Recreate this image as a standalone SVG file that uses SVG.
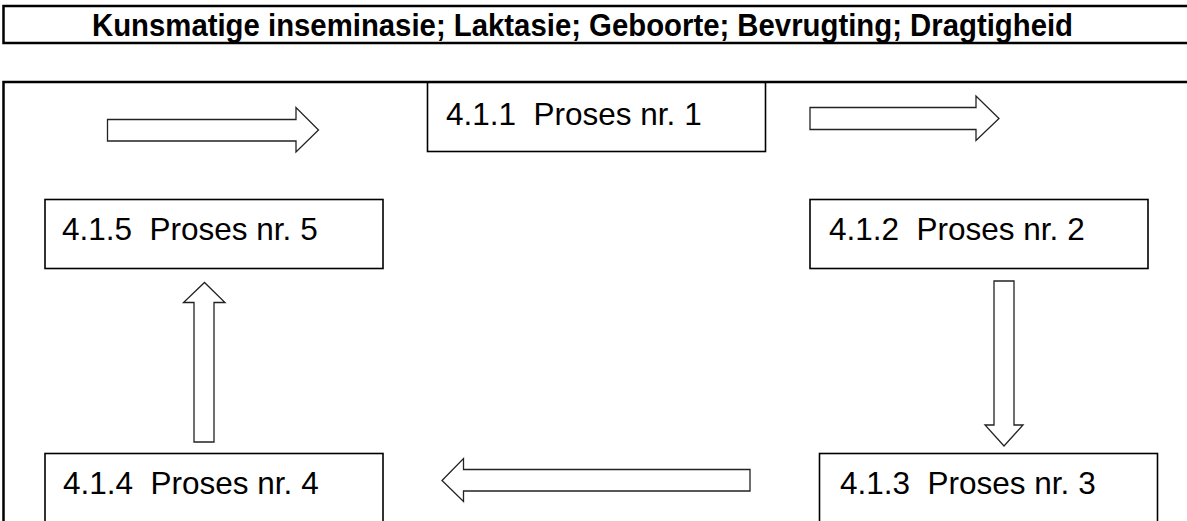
<svg xmlns="http://www.w3.org/2000/svg" width="1187" height="521" viewBox="0 0 1187 521">
<style>
.frame{fill:none;stroke:#000;stroke-width:2.5}
.box{fill:#fff;stroke:#000;stroke-width:1.6}
.lbl{font-family:"Liberation Sans",Arial,sans-serif;font-size:31.5px;fill:#000;white-space:pre}
.title{font-family:"Liberation Sans",Arial,sans-serif;font-size:32px;font-weight:bold;fill:#000}
.arr{fill:#fff;stroke:#222;stroke-width:1.3;stroke-linejoin:miter}
</style>
<rect width="1187" height="521" fill="#fff"/>
<g id="title">
<path class="frame" d="M1190,6 H3.5 V43 H1190"/>
<text class="title" x="92" y="36" textLength="981" lengthAdjust="spacingAndGlyphs">Kunsmatige inseminasie; Laktasie; Geboorte; Bevrugting; Dragtigheid</text>
</g>
<g id="frame">
<path class="frame" d="M1190,82 H3.5 V525"/>
</g>
<g id="connectors">
<polygon class="arr" points="107.5,119.5 296,119.5 296,107.5 318.5,130 296,152 296,141 107.5,141"/>
<polygon class="arr" points="810,107.5 976,107.5 976,96 999,118.5 976,140.5 976,129.5 810,129.5"/>
<polygon class="arr" points="994,281 1014,281 1014,425 1023,425 1004,446 985,425 994,425"/>
<polygon class="arr" points="750,469.5 750,491 463.5,491 463.5,501.5 442,480.5 463.5,458.5 463.5,469.5"/>
<polygon class="arr" points="194,442 214,442 214,302.5 225,302.5 204.5,282.5 183.5,302.5 194,302.5"/>
</g>
<g id="node1">
<rect class="box" x="427.5" y="82.5" width="338" height="69"/>
<text class="lbl" x="446" y="125" xml:space="preserve">4.1.1  Proses nr. 1</text>
</g>
<g id="node2">
<rect class="box" x="810" y="199.5" width="338" height="69"/>
<text class="lbl" x="829" y="240" xml:space="preserve">4.1.2  Proses nr. 2</text>
</g>
<g id="node3">
<rect class="box" x="819.5" y="453.5" width="338" height="80"/>
<text class="lbl" x="840" y="494" xml:space="preserve">4.1.3  Proses nr. 3</text>
</g>
<g id="node4">
<rect class="box" x="45" y="453.5" width="338" height="80"/>
<text class="lbl" x="63" y="494" xml:space="preserve">4.1.4  Proses nr. 4</text>
</g>
<g id="node5">
<rect class="box" x="45" y="199.5" width="338" height="69"/>
<text class="lbl" x="62" y="240" xml:space="preserve">4.1.5  Proses nr. 5</text>
</g>
</svg>
